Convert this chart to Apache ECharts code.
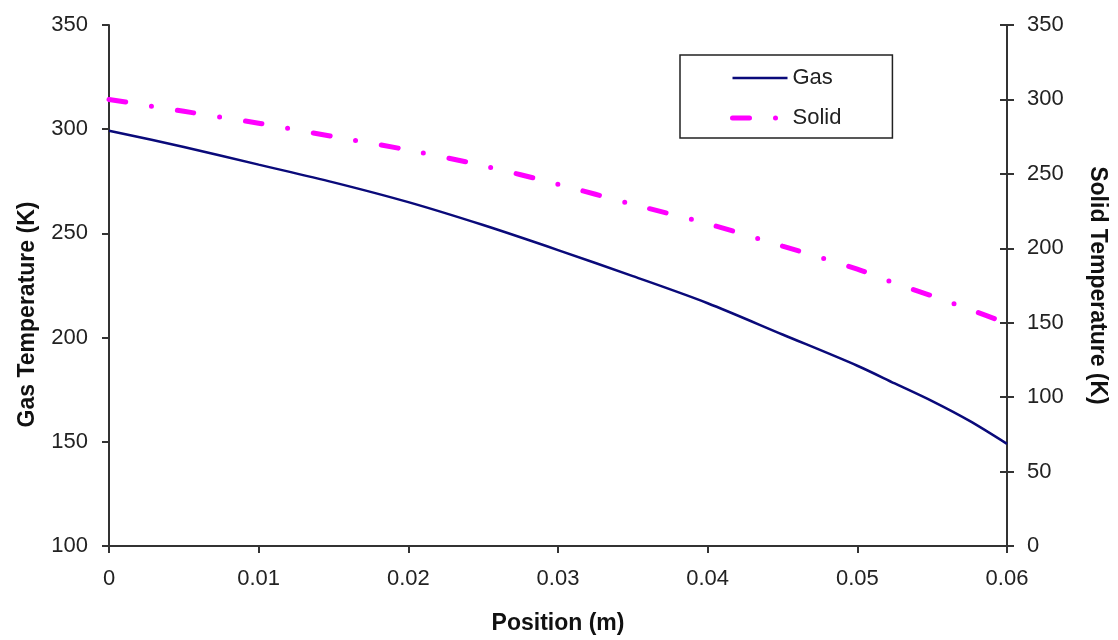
<!DOCTYPE html>
<html>
<head>
<meta charset="utf-8">
<script src="https://cdn.jsdelivr.net/npm/echarts@6/dist/echarts.min.js"></script>
<style>
  html, body { margin: 0; padding: 0; background: #fff; }
  #chart { width: 1118px; height: 640px; }
</style>
</head>
<body>
<div id="chart"></div>
<script>
// Data
const positions = [0, 0.005, 0.01, 0.015, 0.02, 0.025, 0.03, 0.035, 0.04, 0.045, 0.05, 0.0525, 0.055, 0.0575, 0.06];
const gasTemp   = [299.3, 291.5, 283, 274.5, 265, 254, 242, 229.5, 216.5, 201.5, 186.5, 178, 169.5, 160, 149];
const solidTemp = [300, 292, 284, 275, 266, 255.5, 243, 229.5, 216.5, 201.5, 186, 176.5, 168, 159, 149.5];

const xTicks = { min: 0, max: 0.06, interval: 0.01 };
const gasTicks = { min: 100, max: 350, interval: 50 };
const solidTicks = { min: 0, max: 350, interval: 50 };

const gasPairs = positions.map((x, i) => [x, gasTemp[i]]);
const solidPairs = positions.map((x, i) => [x, solidTemp[i]]);

const axisColor = '#333';
const gasColor = '#0a0a7a';
const solidColor = '#ff00ff';
const solidDash = [17, 26, 0, 26];
const labelFont = { fontFamily: 'Liberation Sans, Arial, sans-serif', fontSize: 22, color: '#222' };
const nameFont = { fontFamily: 'Liberation Sans, Arial, sans-serif', fontSize: 23, fontWeight: 'bold', color: '#111' };

const chart = echarts.init(document.getElementById('chart'), null, { renderer: 'canvas' });
chart.setOption({
  animation: false,
  backgroundColor: '#fff',
  grid: { left: 109, right: 111, top: 25, height: 521, containLabel: false },
  legend: {
    orient: 'vertical',
    left: 680, top: 55,
    padding: [12, 51, 9, 50],
    itemWidth: 55, itemHeight: 20, itemGap: 18,
    borderColor: '#222', borderWidth: 1.5,
    itemStyle: { color: 'rgba(0,0,0,0)', borderWidth: 0, opacity: 0 },
    textStyle: { fontFamily: 'Liberation Sans, Arial, sans-serif', fontSize: 22, color: '#222' },
    data: [
      { name: 'Gas', itemStyle: { color: 'rgba(0,0,0,0)', borderWidth: 0, opacity: 0 },
        lineStyle: { color: gasColor, width: 2.5, type: 'solid' } },
      { name: 'Solid', itemStyle: { color: 'rgba(0,0,0,0)', borderWidth: 0, opacity: 0 },
        lineStyle: { color: solidColor, width: 5, type: solidDash, cap: 'round' } }
    ]
  },
  xAxis: {
    type: 'value',
    min: xTicks.min, max: xTicks.max, interval: xTicks.interval,
    name: 'Position (m)', nameLocation: 'middle', nameGap: 66, nameTextStyle: nameFont,
    axisLine: { show: true, lineStyle: { color: axisColor, width: 2 } },
    axisTick: { show: true, length: 7, lineStyle: { color: axisColor, width: 2 } },
    axisLabel: Object.assign({ margin: 22 }, labelFont),
    splitLine: { show: false }
  },
  yAxis: [
    {
      type: 'value', position: 'left',
      min: gasTicks.min, max: gasTicks.max, interval: gasTicks.interval,
      name: 'Gas Temperature (K)', nameLocation: 'middle', nameRotate: 90, nameGap: 70,
      nameTextStyle: Object.assign({ padding: [0, 58, 0, 0] }, nameFont),
      axisLine: { show: true, lineStyle: { color: axisColor, width: 2 } },
      axisTick: { show: true, length: 7, lineStyle: { color: axisColor, width: 2 } },
      axisLabel: Object.assign({ margin: 21 }, labelFont),
      splitLine: { show: false }
    },
    {
      type: 'value', position: 'right',
      min: solidTicks.min, max: solidTicks.max, interval: solidTicks.interval,
      name: 'Solid Temperature (K)', nameLocation: 'middle', nameRotate: -90, nameGap: 79, nameTextStyle: nameFont,
      axisLine: { show: true, lineStyle: { color: axisColor, width: 2 } },
      axisTick: { show: true, length: 7, lineStyle: { color: axisColor, width: 2 } },
      axisLabel: Object.assign({ margin: 20 }, labelFont),
      splitLine: { show: false }
    },
    {
      // inner half of the crossing ticks on the right axis
      type: 'value', position: 'right',
      min: solidTicks.min, max: solidTicks.max, interval: solidTicks.interval,
      axisLine: { show: false },
      axisTick: { show: true, inside: true, length: 7, lineStyle: { color: axisColor, width: 2 } },
      axisLabel: { show: false },
      splitLine: { show: false }
    }
  ],
  series: [
    {
      name: 'Gas', type: 'line', yAxisIndex: 0,
      data: gasPairs, smooth: 0.3, symbol: 'none', showSymbol: false,
      lineStyle: { color: gasColor, width: 2.5 },
      itemStyle: { color: gasColor },
      z: 3
    },
    {
      name: 'Solid', type: 'line', yAxisIndex: 1,
      data: solidPairs, smooth: 0.3, symbol: 'none', showSymbol: false,
      lineStyle: { color: solidColor, width: 5, type: solidDash, cap: 'round' },
      itemStyle: { color: solidColor },
      z: 2
    }
  ]
});
</script>
</body>
</html>
